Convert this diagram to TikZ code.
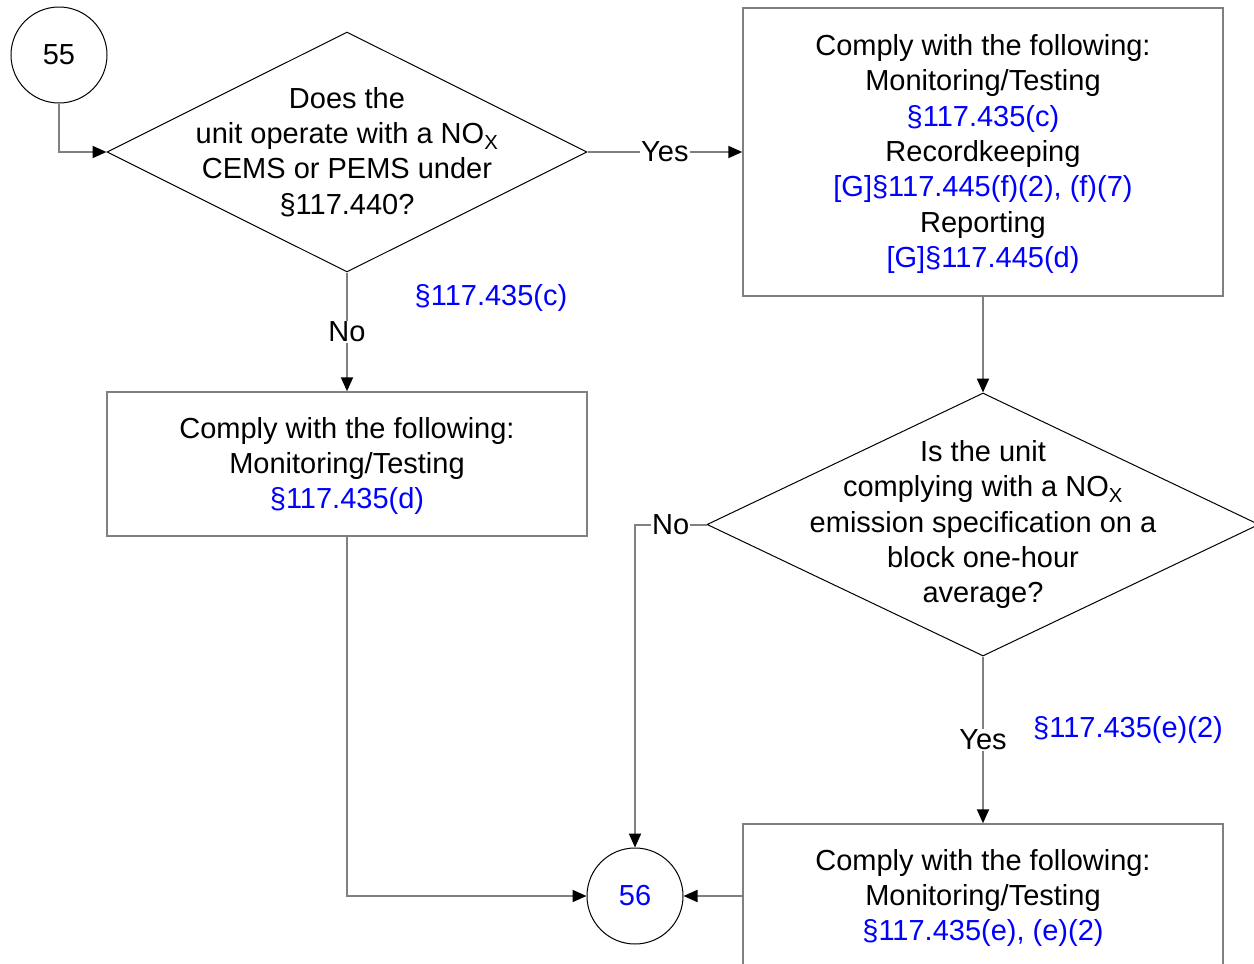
\documentclass[tikz,border=0pt]{standalone}
\usepackage{fontspec}
\setmainfont{Liberation Sans}
\usetikzlibrary{shapes.geometric,arrows.meta}
\definecolor{lg}{RGB}{128,128,128}
\definecolor{refblue}{RGB}{0,0,255}
\begin{document}
\begin{tikzpicture}[x=1pt,y=-1pt,
 every node/.style={font=\fontsize{29pt}{35.3pt}\selectfont},
 conn/.style={draw=lg, line width=2pt, -{Triangle[length=14pt,width=12pt,color=black]}},
 box/.style={draw=lg, line width=1.5pt, minimum width=480pt, inner sep=0pt},
 dia/.style={draw=black, line width=1pt, diamond, inner sep=0pt},
 circ/.style={draw=black, line width=1pt, circle, minimum size=96pt, inner sep=0pt},
 txt/.style={align=center, inner sep=0pt, yshift=-2pt},
 dtxt/.style={align=center, inner sep=0pt},
 lbl/.style={fill=white, inner sep=1pt},
 refc/.style={text=refblue}]
\clip (0,0) rectangle (1254,964);
\fill[white] (0,0) rectangle (1254,964);

\node[circ] (c55) at (59,55) {55};
\node[dia, minimum width=480pt, minimum height=240pt] (d1) at (347,152) {};
\node[dtxt] (t1) at (d1.center) {Does the\\unit operate with a NO\textsubscript{X}\\CEMS or PEMS under\\§117.440?};

\node[box, minimum height=288pt] (b1) at (983,152) {};
\node[txt] (tb1) at (b1.center) {Comply with the following:\\Monitoring/Testing\\\textcolor{refblue}{§117.435(c)}\\Recordkeeping\\\textcolor{refblue}{[G]§117.445(f)(2), (f)(7)}\\Reporting\\\textcolor{refblue}{[G]§117.445(d)}};

\node[box, minimum height=144pt] (b2) at (347,464) {};
\node[txt] (tb2) at (b2.center) {Comply with the following:\\Monitoring/Testing\\\textcolor{refblue}{§117.435(d)}};

\node[dia, minimum width=552pt, minimum height=263pt] (d2) at (983,524.5) {};
\node[dtxt] (t2) at (d2.center) {Is the unit\\complying with a NO\textsubscript{X}\\emission specification on a\\block one-hour\\average?};

\node[circ, refc] (c56) at (635,896) {56};
\node[box, minimum height=144pt] (b3) at (983,896) {};
\node[txt] (tb3) at (b3.center) {Comply with the following:\\Monitoring/Testing\\\textcolor{refblue}{§117.435(e), (e)(2)}};

\node[refc] (r1) at (491,298) {§117.435(c)};
\node[refc] (r2) at (1128,730) {§117.435(e)(2)};

\draw[conn] (c55.south) |- (d1.west);
\draw[conn] (d1.east) -- node[lbl] {Yes} (b1.west);
\draw[conn] (d1.south) -- node[lbl] {No} (b2.north);
\draw[conn] (b1.south) -- (d2.north);
\draw[conn] (d2.west) -| node[lbl, pos=0.25] {No} (c56.north);
\draw[conn] (d2.south) -- node[lbl] {Yes} (b3.north);
\draw[conn] (b3.west) -- (c56.east);
\draw[conn] (b2.south) |- (c56.west);
\end{tikzpicture}
\end{document}
